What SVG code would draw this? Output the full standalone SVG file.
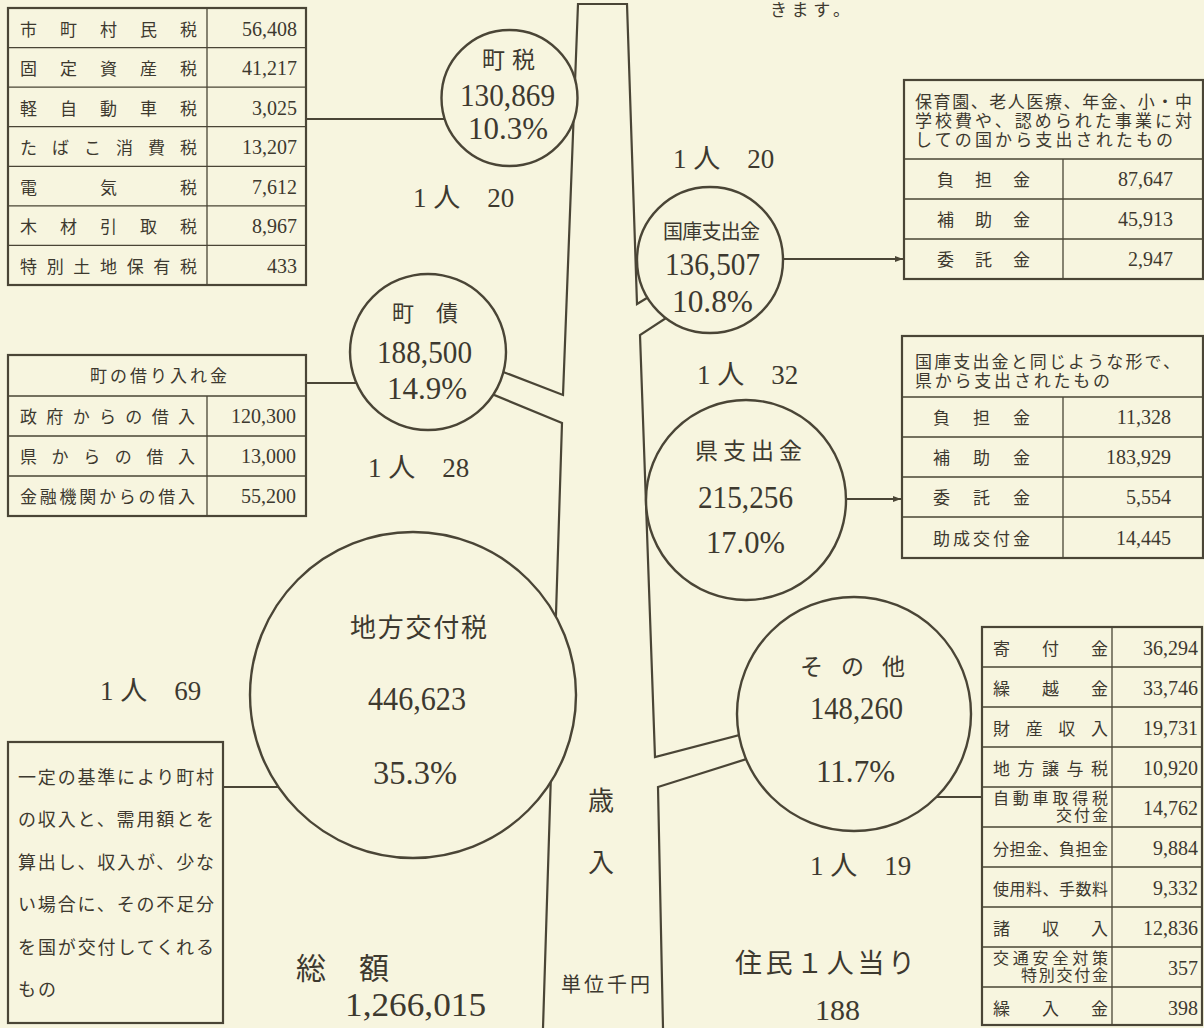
<svg xmlns="http://www.w3.org/2000/svg" width="1204" height="1028" viewBox="0 0 1204 1028">
<defs>
<style>
.bg{fill:#f7f5df}
.ln{fill:none;stroke:#4a4536;stroke-width:2.2}
.c{fill:#f7f5df;stroke:#4a4536;stroke-width:2.4}
.box{fill:none;stroke:#4a4536;stroke-width:2.2}
.gr{fill:none;stroke:#4a4536;stroke-width:1.3}
text{font-family:"Liberation Serif","Noto Sans CJK JP",serif;fill:#3d392f}
.s16{font-size:16px}
.s17{font-size:17px}
.s18{font-size:18px}
.s20{font-size:20px}
.s22{font-size:22px}
.s23{font-size:23px}
.s26{font-size:26px}
.s27{font-size:27px}
.s30{font-size:30px}
.s31{font-size:31px}
.s33{font-size:33px}
.v{font-size:20px;text-anchor:end}
</style>
<marker id="ah" markerUnits="userSpaceOnUse" markerWidth="9" markerHeight="8" refX="8" refY="4" orient="auto"><path d="M0,1 L8,4 L0,7 z" fill="#4a4536"/></marker>
</defs>
<rect class="bg" x="0" y="0" width="1204" height="1028"/>
<text class="s17" x="770" y="16" textLength="80" lengthAdjust="spacing">きます。</text>

<g id="trunk">
<path class="ln" d="M480,363 L563,395 L578,4 L627,4 L637,304 L670,284"/>
<path class="ln" d="M470,385 L562,423 L543,1028"/>
<path class="ln" d="M692,301 L640,335 L655,757 L770,727"/>
<path class="ln" d="M772,751 L658,787 L663,1028"/>
<text class="s26" x="601" y="810" text-anchor="middle">歳</text>
<text class="s26" x="601" y="872" text-anchor="middle">入</text>
<text class="s20" x="561" y="992" textLength="89" lengthAdjust="spacing">単位千円</text>
</g>

<g id="connectors">
<path class="ln" d="M306,119 H452"/>
<path class="ln" d="M306,383 H362"/>
<path class="ln" d="M223,787 H300"/>
<path class="ln" d="M770,259 H903" marker-end="url(#ah)"/>
<path class="ln" d="M830,499 H901" marker-end="url(#ah)"/>
<path class="ln" d="M920,797 H982"/>
</g>

<g id="node-chouzei">
<circle class="c" cx="509.5" cy="98" r="68"/>
<text class="s23" x="482" y="68" textLength="53" lengthAdjust="spacing">町税</text>
<text class="s31" x="460" y="106" textLength="95" lengthAdjust="spacingAndGlyphs">130,869</text>
<text class="s31" x="468" y="139" textLength="80" lengthAdjust="spacingAndGlyphs">10.3%</text>
</g>

<g id="node-chousai">
<circle class="c" cx="428" cy="352" r="78"/>
<text class="s22" x="392" y="321" textLength="66" lengthAdjust="spacing">町　債</text>
<text class="s31" x="377" y="363" textLength="95" lengthAdjust="spacingAndGlyphs">188,500</text>
<text class="s31" x="387" y="399" textLength="80" lengthAdjust="spacingAndGlyphs">14.9%</text>
</g>

<g id="node-kokko">
<circle class="c" cx="710" cy="260" r="73"/>
<text class="s20" x="663" y="239" textLength="97" lengthAdjust="spacing">国庫支出金</text>
<text class="s31" x="665" y="275" textLength="95" lengthAdjust="spacingAndGlyphs">136,507</text>
<text class="s31" x="672" y="312" textLength="81" lengthAdjust="spacingAndGlyphs">10.8%</text>
</g>

<g id="node-ken">
<circle class="c" cx="746" cy="500" r="100"/>
<text class="s23" x="695" y="459" textLength="107" lengthAdjust="spacing">県支出金</text>
<text class="s31" x="698" y="508" textLength="95" lengthAdjust="spacingAndGlyphs">215,256</text>
<text class="s31" x="706" y="553" textLength="79" lengthAdjust="spacingAndGlyphs">17.0%</text>
</g>

<g id="node-koufuzei">
<circle class="c" cx="413" cy="695" r="163"/>
<text class="s26" x="350" y="637" textLength="137" lengthAdjust="spacing">地方交付税</text>
<text class="s33" x="368" y="710" textLength="98" lengthAdjust="spacingAndGlyphs">446,623</text>
<text class="s33" x="373" y="784" textLength="84" lengthAdjust="spacingAndGlyphs">35.3%</text>
</g>

<g id="node-sonota">
<circle class="c" cx="854" cy="714" r="117"/>
<text class="s23" x="800" y="675" textLength="105" lengthAdjust="spacing">その他</text>
<text class="s31" x="810" y="719" textLength="93" lengthAdjust="spacingAndGlyphs">148,260</text>
<text class="s31" x="816" y="782" textLength="79" lengthAdjust="spacingAndGlyphs">11.7%</text>
</g>

<g id="per-person">
<text class="s27" x="413" y="207">1 人　20</text>
<text class="s27" x="368" y="477">1 人　28</text>
<text class="s27" x="673" y="168">1 人　20</text>
<text class="s27" x="697" y="384">1 人　32</text>
<text class="s27" x="810" y="875">1 人　19</text>
<text class="s27" x="100" y="700">1 人　69</text>
</g>

<g id="totals">
<text class="s30" x="296" y="979" textLength="93" lengthAdjust="spacing">総　額</text>
<text class="s33" x="345" y="1016" textLength="141" lengthAdjust="spacingAndGlyphs">1,266,015</text>
<text class="s27" x="735" y="973" textLength="180" lengthAdjust="spacing">住民１人当り</text>
<text class="s30" x="815" y="1020" textLength="45" lengthAdjust="spacingAndGlyphs">188</text>
</g>

<g id="tbl-chouzei">
<rect class="box" x="8" y="8" width="298" height="277"/>
<path class="gr" d="M207,8 V285 M8,47.6 H306 M8,87.1 H306 M8,126.7 H306 M8,166.3 H306 M8,205.9 H306 M8,245.4 H306"/>
<g class="s17">
<text x="20" y="35.5" textLength="177" lengthAdjust="spacing">市町村民税</text>
<text x="20" y="75" textLength="177" lengthAdjust="spacing">固定資産税</text>
<text x="20" y="114.6" textLength="177" lengthAdjust="spacing">軽自動車税</text>
<text x="20" y="154.2" textLength="177" lengthAdjust="spacing">たばこ消費税</text>
<text x="20" y="193.8" textLength="177" lengthAdjust="spacing">電気税</text>
<text x="20" y="233.4" textLength="177" lengthAdjust="spacing">木材引取税</text>
<text x="20" y="273" textLength="177" lengthAdjust="spacing">特別土地保有税</text>
</g>
<text class="v" x="297" y="35.5">56,408</text>
<text class="v" x="297" y="75">41,217</text>
<text class="v" x="297" y="114.6">3,025</text>
<text class="v" x="297" y="154.2">13,207</text>
<text class="v" x="297" y="193.8">7,612</text>
<text class="v" x="297" y="233.4">8,967</text>
<text class="v" x="297" y="273">433</text>
</g>

<g id="tbl-chousai">
<rect class="box" x="8" y="355" width="298" height="161"/>
<path class="gr" d="M8,396 H306 M8,436 H306 M8,476 H306 M207,396 V516"/>
<text class="s17" x="90" y="382" textLength="137" lengthAdjust="spacing">町の借り入れ金</text>
<g class="s17">
<text x="20" y="423" textLength="175" lengthAdjust="spacing">政府からの借入</text>
<text x="20" y="463" textLength="175" lengthAdjust="spacing">県からの借入</text>
<text x="20" y="503" textLength="175" lengthAdjust="spacing">金融機関からの借入</text>
</g>
<text class="v" x="296" y="423">120,300</text>
<text class="v" x="296" y="463">13,000</text>
<text class="v" x="296" y="503">55,200</text>
</g>

<g id="tbl-kokko">
<rect class="box" x="904" y="80" width="299" height="199"/>
<path class="gr" d="M904,159 H1203 M904,199 H1203 M904,239 H1203 M1063,159 V279"/>
<g class="s17">
<text x="915" y="108" textLength="277" lengthAdjust="spacing">保育園、老人医療、年金、小・中</text>
<text x="915" y="127" textLength="277" lengthAdjust="spacing">学校費や、認められた事業に対</text>
<text x="915" y="146" textLength="258" lengthAdjust="spacing">しての国から支出されたもの</text>
<text x="937" y="186" textLength="93" lengthAdjust="spacing">負担金</text>
<text x="937" y="226" textLength="93" lengthAdjust="spacing">補助金</text>
<text x="937" y="266" textLength="93" lengthAdjust="spacing">委託金</text>
</g>
<text class="v" x="1173" y="186">87,647</text>
<text class="v" x="1173" y="226">45,913</text>
<text class="v" x="1173" y="266">2,947</text>
</g>

<g id="tbl-ken">
<rect class="box" x="902" y="336" width="301" height="222"/>
<path class="gr" d="M902,397 H1203 M902,437 H1203 M902,477 H1203 M902,517 H1203 M1063,397 V558"/>
<g class="s17">
<text x="915" y="368" textLength="265" lengthAdjust="spacing">国庫支出金と同じような形で、</text>
<text x="915" y="387" textLength="195" lengthAdjust="spacing">県から支出されたもの</text>
<text x="933" y="424" textLength="97" lengthAdjust="spacing">負担金</text>
<text x="933" y="464" textLength="97" lengthAdjust="spacing">補助金</text>
<text x="933" y="504" textLength="97" lengthAdjust="spacing">委託金</text>
<text x="933" y="545" textLength="97" lengthAdjust="spacing">助成交付金</text>
</g>
<text class="v" x="1171" y="424">11,328</text>
<text class="v" x="1171" y="464">183,929</text>
<text class="v" x="1171" y="504">5,554</text>
<text class="v" x="1171" y="545">14,445</text>
</g>

<g id="tbl-sonota">
<rect class="box" x="982" y="627" width="220" height="398"/>
<path class="gr" d="M1112,627 V1025 M982,667 H1202 M982,707 H1202 M982,747 H1202 M982,787 H1202 M982,827 H1202 M982,867 H1202 M982,907 H1202 M982,947 H1202 M982,987 H1202"/>
<g class="s17">
<text x="993" y="655" textLength="115" lengthAdjust="spacing">寄付金</text>
<text x="993" y="695" textLength="115" lengthAdjust="spacing">繰越金</text>
<text x="993" y="735" textLength="115" lengthAdjust="spacing">財産収入</text>
<text x="993" y="775" textLength="115" lengthAdjust="spacing">地方譲与税</text>
<text class="s16" x="993" y="804" textLength="115" lengthAdjust="spacing">自動車取得税</text>
<text class="s16" x="1056" y="821" textLength="52" lengthAdjust="spacing">交付金</text>
<text class="s16" x="993" y="855" textLength="115" lengthAdjust="spacing">分担金、負担金</text>
<text class="s16" x="993" y="895" textLength="115" lengthAdjust="spacing">使用料、手数料</text>
<text x="993" y="935" textLength="115" lengthAdjust="spacing">諸収入</text>
<text class="s16" x="993" y="964" textLength="115" lengthAdjust="spacing">交通安全対策</text>
<text class="s16" x="1021" y="981" textLength="87" lengthAdjust="spacing">特別交付金</text>
<text x="993" y="1015" textLength="115" lengthAdjust="spacing">繰入金</text>
</g>
<text class="v" x="1198" y="655">36,294</text>
<text class="v" x="1198" y="695">33,746</text>
<text class="v" x="1198" y="735">19,731</text>
<text class="v" x="1198" y="775">10,920</text>
<text class="v" x="1198" y="815">14,762</text>
<text class="v" x="1198" y="855">9,884</text>
<text class="v" x="1198" y="895">9,332</text>
<text class="v" x="1198" y="935">12,836</text>
<text class="v" x="1198" y="975">357</text>
<text class="v" x="1198" y="1015">398</text>
</g>

<g id="box-koufuzei">
<rect class="box" x="8" y="742" width="215" height="281"/>
<g class="s18">
<text x="18" y="784" textLength="196" lengthAdjust="spacing">一定の基準により町村</text>
<text x="18" y="826" textLength="196" lengthAdjust="spacing">の収入と、需用額とを</text>
<text x="18" y="869" textLength="196" lengthAdjust="spacing">算出し、収入が、少な</text>
<text x="18" y="911" textLength="196" lengthAdjust="spacing">い場合に、その不足分</text>
<text x="18" y="954" textLength="196" lengthAdjust="spacing">を国が交付してくれる</text>
<text x="18" y="996" textLength="38" lengthAdjust="spacing">もの</text>
</g>
</g>
</svg>
